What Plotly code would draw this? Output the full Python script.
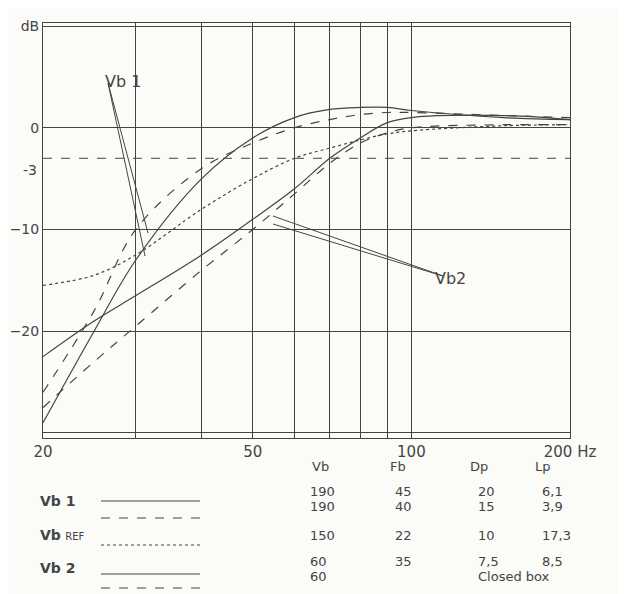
import plotly.graph_objects as go

freq = [20, 25, 30, 40, 50, 60, 70, 80, 90, 100, 150, 200]
vb1_solid = [-29, -20, -13, -5, -1, 1, 1.8, 2, 2, 1.7, 1, 0.8]
vb1_dash = [-26, -18, -10, -4, -1.5, 0, 0.8, 1.3, 1.5, 1.5, 1.2, 1]
vbref = [-15.5, -14.5, -12.5, -8, -5, -3, -2, -1.2, -0.6, -0.3, 0.2, 0.3]
vb2_solid = [-22.5, -19, -16.5, -12.5, -9, -6, -3, -1, 0.5, 1, 1.2, 0.8]
vb2_dash = [-27.5, -23, -19.5, -14, -10, -6.5, -3.5, -1.5, -0.5, 0, 0.3, 0.3]

table_head = ["Vb", "Fb", "Dp", "Lp"]
table_rows = [["190", "45", "20", "6,1"], ["190", "40", "15", "3,9"],
              ["150", "22", "10", "17,3"], ["60", "35", "7,5", "8,5"],
              ["60", "", "Closed box", ""]]

C = "#444"
fig = go.Figure()
for y, dash in [(vb1_solid, "solid"), (vb1_dash, "dash"), (vbref, "dot"),
                (vb2_solid, "solid"), (vb2_dash, "dash")]:
    fig.add_trace(go.Scatter(x=freq, y=y, mode="lines", line=dict(color=C, width=1.2, dash=dash, shape="spline"), showlegend=False))
fig.add_trace(go.Scatter(x=[20, 200], y=[-3, -3], mode="lines", line=dict(color=C, width=1, dash="dash"), showlegend=False))

grid_x = [20, 30, 40, 50, 60, 70, 80, 90, 100, 200]
fig.update_xaxes(type="log", range=[1.301, 2.301], tickvals=grid_x,
                 ticktext=["20", "", "", "50", "", "", "", "", "100", "200 Hz"],
                 showgrid=True, gridcolor=C, gridwidth=1, showline=True, linecolor=C, mirror=True,
                 ticks="", automargin=False, tickfont=dict(size=15, color=C, family="DejaVu Sans"))
fig.update_yaxes(range=[-30.5, 10.3], tickvals=[10, 0, -10, -20, -30],
                 ticktext=["dB", "0", "−10", "−20", ""], showgrid=True, gridcolor=C,
                 showline=True, linecolor=C, mirror=True, ticks="", zeroline=False, automargin=False,
                 tickfont=dict(size=14, color=C, family="DejaVu Sans"))

def py(p):
    return (430 - p) / 415
def px(p):
    return (p - 35) / 527

ann = [dict(x=px(95), y=py(62), text="Vb 1", font=dict(size=16)),
       dict(x=px(460), y=py(270), text="Vb2", font=dict(size=16)),
       dict(x=px(31), y=py(152), text="-3", xanchor="right", font=dict(size=14))]
for t, x in zip(table_head, [312, 400, 482, 545]):
    ann.append(dict(x=px(x), y=py(468), text=t, font=dict(size=13)))
rows_y = [493, 508, 537, 563, 578]
for r, yy in zip(table_rows, rows_y):
    for t, x in zip(r, [300, 385, 468, 532]):
        if t:
            ann.append(dict(x=px(x), y=py(yy), text=t, xanchor="left", font=dict(size=13)))
ann += [dict(x=px(30), y=py(503), text="<b>Vb 1</b>", xanchor="left", font=dict(size=14)),
        dict(x=px(30), y=py(537), text="<b>Vb</b> <span style='font-size:10px'>REF</span>", xanchor="left", font=dict(size=14)),
        dict(x=px(30), y=py(570), text="<b>Vb 2</b>", xanchor="left", font=dict(size=14))]
for a in ann:
    a.update(xref="paper", yref="paper", showarrow=False)
    a["font"].update(color=C, family="DejaVu Sans")
fig.update_layout(annotations=ann)

shapes = []
for (x0, y0, x1, y1) in [(100, 75, 140, 225), (100, 75, 137, 248), (435, 268, 265, 208), (435, 268, 265, 216)]:
    shapes.append(dict(type="line", xref="paper", yref="paper", x0=px(x0), y0=py(y0), x1=px(x1), y1=py(y1), line=dict(color=C, width=1)))
for yy, dash in [(493, "solid"), (510, "dash"), (537, "dot"), (566, "solid"), (580, "dash")]:
    shapes.append(dict(type="line", xref="paper", yref="paper", x0=px(93), x1=px(192), y0=py(yy), y1=py(yy), line=dict(color=C, width=1.2, dash=dash)))
fig.update_layout(shapes=shapes, width=625, height=594, margin=dict(l=35, r=63, t=15, b=164),
                  paper_bgcolor="#fbfbf8", plot_bgcolor="#fbfbf8")
fig.write_html("out.html")
